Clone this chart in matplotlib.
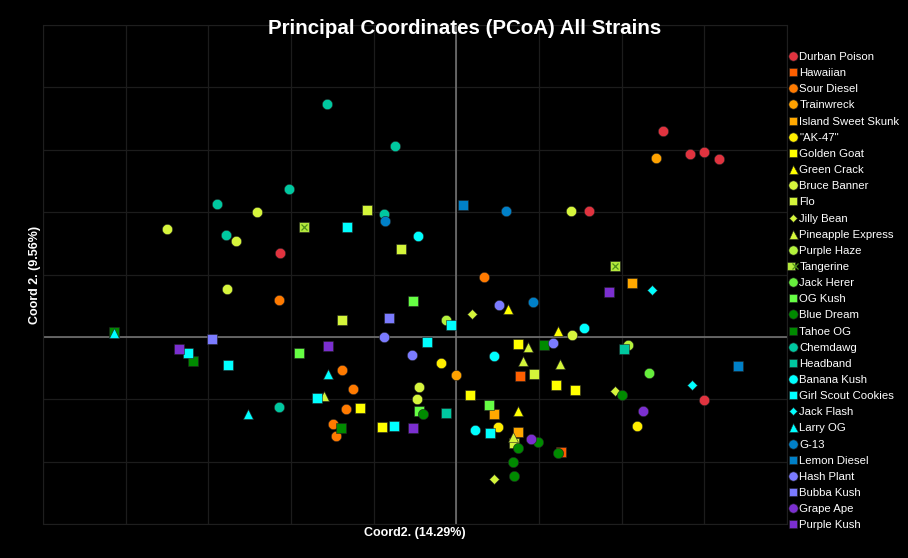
import matplotlib
matplotlib.use("Agg")
import matplotlib.pyplot as plt
from matplotlib.lines import Line2D
from matplotlib.legend_handler import HandlerTuple

plt.rcParams['font.family'] = ['Liberation Sans', 'DejaVu Sans']

strains = ["Durban Poison", "Hawaiian", "Sour Diesel", "Trainwreck", "Island Sweet Skunk",
           "\"AK-47\"", "Golden Goat", "Green Crack", "Bruce Banner", "Flo", "Jilly Bean",
           "Pineapple Express", "Purple Haze", "Tangerine", "Jack Herer", "OG Kush",
           "Blue Dream", "Tahoe OG", "Chemdawg", "Headband", "Banana Kush",
           "Girl Scout Cookies", "Jack Flash", "Larry OG", "G-13", "Lemon Diesel",
           "Hash Plant", "Bubba Kush", "Grape Ape", "Purple Kush"]

colors = ['#e0333f', '#ff5f00', '#ff7a00', '#ffa200', '#ffa800', '#ffee00', '#ffff00',
          '#ffff00', '#d6f53c', '#d4f53a', '#d4f53a', '#d4f53a', '#b4f23c', '#b4e83c',
          '#66ee3c', '#66ff44', '#008a00', '#008a00', '#00c8a0', '#00c8a0', '#00ffff',
          '#00ffff', '#00ffff', '#00ffff', '#0080c8', '#0080c8', '#7b7bff', '#7b7bff',
          '#7b2fd0', '#7b2fd0']

markers = ['o', 's', 'o', 'o', 's', 'o', 's', '^', 'o', 's', 'D', '^', 'o', 's', 'o', 's',
           'o', 's', 'o', 's', 'o', 's', 'D', '^', 'o', 's', 'o', 's', 'o', 's']

x_vals = [
    [0.250, 0.283, 0.300, 0.318, 0.161, 0.300, -0.213],
    [0.077, 0.127],
    [-0.215, 0.033, -0.138, -0.125, -0.134, -0.149, -0.145],
    [0.242, 0.000],
    [0.213, 0.046, 0.074],
    [-0.018, 0.051, 0.219],
    [-0.117, -0.090, 0.017, 0.074, 0.120, 0.144],
    [0.063, 0.123, 0.075],
    [-0.350, -0.241, -0.266, -0.278, 0.139, 0.140, -0.045, -0.047],
    [-0.108, -0.067, -0.138, 0.094, 0.070],
    [0.019, 0.192, 0.045],
    [0.087, 0.081, 0.126, 0.068, -0.160],
    [-0.013, 0.208],
    [-0.184, 0.192],
    [0.233],
    [-0.052, -0.190, -0.045, 0.040],
    [0.075, 0.099, 0.069, 0.070, 0.123, 0.200, -0.040],
    [-0.414, -0.318, -0.140, 0.106],
    [-0.156, -0.074, -0.202, -0.289, -0.279, -0.087, -0.215],
    [-0.012, 0.203],
    [-0.046, 0.154, 0.045, 0.023],
    [-0.132, -0.007, -0.035, -0.168, -0.076, -0.325, -0.276, 0.041],
    [0.237, 0.285],
    [-0.414, -0.252, -0.155],
    [-0.086, 0.060, 0.093],
    [0.008, 0.341],
    [-0.088, -0.054, 0.052, 0.117],
    [-0.082, -0.295],
    [0.090, 0.226],
    [-0.336, -0.155, -0.052, 0.185],
]

y_vals = [
    [0.330, 0.293, 0.296, 0.285, 0.202, -0.101, 0.135],
    [-0.063, -0.184],
    [0.059, 0.096, -0.053, -0.083, -0.115, -0.139, -0.159],
    [0.287, -0.061],
    [0.087, -0.123, -0.152],
    [-0.042, -0.144, -0.143],
    [-0.114, -0.144, -0.093, -0.011, -0.077, -0.085],
    [0.045, 0.010, -0.119],
    [0.173, 0.200, 0.154, 0.077, 0.202, 0.003, -0.080, -0.099],
    [0.204, 0.141, 0.027, -0.059, -0.170],
    [0.037, -0.087, -0.228],
    [-0.016, -0.038, -0.043, -0.160, -0.095],
    [0.027, -0.013],
    [0.176, 0.114],
    [-0.058],
    [0.058, -0.026, -0.119, -0.109],
    [-0.178, -0.168, -0.200, -0.223, -0.186, -0.093, -0.123],
    [0.008, -0.038, -0.146, -0.013],
    [0.373, 0.306, 0.237, 0.213, 0.163, 0.197, -0.112],
    [-0.122, -0.019],
    [0.162, 0.014, -0.030, -0.149],
    [0.176, 0.019, -0.008, -0.098, -0.143, -0.026, -0.045, -0.154],
    [0.075, -0.077],
    [0.006, -0.123, -0.059],
    [0.186, 0.202, 0.056],
    [0.212, -0.046],
    [0.000, -0.029, 0.051, -0.010],
    [0.030, -0.003],
    [-0.163, -0.119],
    [-0.019, -0.014, -0.146, 0.072],
]

sizes = {'o': 7.4, 's': 6.7, '^': 7.2, 'D': 5.0}

fig = plt.figure(figsize=(9.08, 5.58), dpi=100, facecolor='black')
ax = fig.add_axes([43/908, 1 - 524/558, (787-43)/908, (524-25)/558], facecolor='black')

ax.set_xlim(-0.5, 0.4)
ax.set_ylim(-0.3, 0.5)
ax.set_xticks([i/10 for i in range(-5, 5)])
ax.set_yticks([i/10 for i in range(-3, 6)])
ax.tick_params(length=0, labelbottom=False, labelleft=False)
ax.grid(True, color='#1c1c1c', linewidth=0.9)
ax.set_axisbelow(True)
for s in ax.spines.values():
    s.set_color('#1e1e1e')
ax.axhline(0, color='#7a7a7a', linewidth=1.1, zorder=1)
ax.axvline(0, color='#7a7a7a', linewidth=1.1, zorder=1)

handles = []
for name, c, m, xs, ys in zip(strains, colors, markers, x_vals, y_vals):
    ms = sizes[m]
    ax.plot(xs, ys, linestyle='none', marker=m, markersize=ms, color=c,
            markeredgecolor='#222222', markeredgewidth=0.4, zorder=3)
    h = Line2D([], [], linestyle='none', marker=m, markersize=ms * 0.9, color=c,
               markeredgecolor='#222222', markeredgewidth=0.4)
    if name == "Tangerine":
        ax.plot(xs, ys, linestyle='none', marker='x', markersize=ms * 0.7,
                color='#4f8f1a', markeredgewidth=0.9, zorder=4)
        hx = Line2D([], [], linestyle='none', marker='x', markersize=ms * 0.6,
                    color='#4f8f1a', markeredgewidth=0.9)
        h = (h, hx)
    handles.append(h)

leg = fig.legend(handles, strains, loc='upper left',
                 bbox_to_anchor=(789/908, 1 - 52/558), frameon=False,
                 fontsize=8.2, labelcolor='white', handlelength=0.7, handletextpad=0.2,
                 labelspacing=0.54, borderaxespad=0, borderpad=0,
                 handler_map={tuple: HandlerTuple(ndivide=None, pad=0)})

fig.text(465/908, 1 - 28/558, "Principal Coordinates (PCoA) All Strains", color='white',
         fontsize=14.8, fontweight='bold', ha='center', va='center')
fig.text(415/908, 1 - 533/558, "Coord2. (14.29%)", color='white', fontsize=9,
         fontweight='bold', ha='center', va='center')
fig.text(35/908, 1 - 275/558, "Coord 2. (9.56%)", color='white', fontsize=9,
         fontweight='bold', ha='center', va='center', rotation=90)

fig.savefig("out.png", dpi=100, facecolor='black')
